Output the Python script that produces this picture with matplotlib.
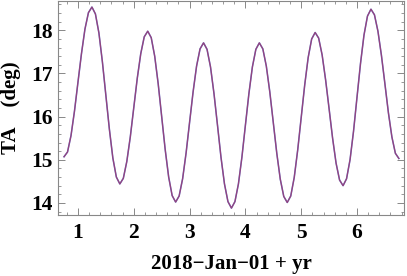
import numpy as np
import matplotlib
matplotlib.use('Agg')
from matplotlib import pyplot as plt
from matplotlib.ticker import MultipleLocator

# time axis, 1/16 yr steps
yr = np.arange(0.75, 6.75 + 1e-9, 0.0625)

# true anomaly (deg)
ta = [15.07, 15.18, 15.56, 16.13, 16.80, 17.46, 18.03, 18.41,
      18.54, 18.38, 17.94, 17.27, 16.49, 15.71, 15.04, 14.60,
      14.44, 14.57, 14.96, 15.53, 16.21, 16.89, 17.46, 17.85,
      17.98, 17.83, 17.40, 16.76, 16.00, 15.24, 14.60, 14.17,
      14.02, 14.16, 14.56, 15.16, 15.87, 16.57, 17.17, 17.57,
      17.71, 17.56, 17.15, 16.53, 15.80, 15.06, 14.44, 14.03,
      13.88, 14.03, 14.44, 15.06, 15.80, 16.53, 17.15, 17.56,
      17.71, 17.57, 17.17, 16.57, 15.86, 15.15, 14.55, 14.15,
      14.01, 14.16, 14.59, 15.23, 15.98, 16.73, 17.37, 17.80,
      17.95, 17.82, 17.43, 16.85, 16.18, 15.50, 14.92, 14.53,
      14.40, 14.56, 15.00, 15.66, 16.45, 17.23, 17.89, 18.33,
      18.49, 18.36, 17.98, 17.42, 16.76, 16.09, 15.53, 15.15,
      15.03]

xticks = [1, 2, 3, 4, 5, 6]
yticks = [14, 15, 16, 17, 18]

plt.rcParams['font.family'] = ['Liberation Serif', 'DejaVu Serif']

fig = plt.figure(figsize=(4.07, 2.76), dpi=100)
ax = fig.add_axes([58 / 407, 61 / 276, 346 / 407, 214 / 276])

ax.plot(yr, ta, color='#4a5fc8', lw=1.1, solid_joinstyle='round')
ax.plot(yr, ta, color='#c8324a', lw=0.9, alpha=0.6, solid_joinstyle='round')

ax.set_xlim(0.642, 6.842)
ax.set_ylim(13.72, 18.68)
ax.set_xticks(xticks)
ax.set_yticks(yticks)
ax.xaxis.set_minor_locator(MultipleLocator(0.2))
ax.yaxis.set_minor_locator(MultipleLocator(0.2))
ax.tick_params(which='both', direction='in', top=True, right=True,
               color='#888888', labelsize=15.5)
ax.tick_params(which='major', length=5, width=0.7)
ax.tick_params(which='minor', length=2.5, width=0.6)
ax.tick_params(axis='x', pad=6)
ax.tick_params(axis='y', pad=4)
for lbl in ax.get_xticklabels() + ax.get_yticklabels():
    lbl.set_fontweight('bold')
for s in ax.spines.values():
    s.set_color('#888888')
    s.set_linewidth(0.8)

ax.set_xlabel('2018\u2212Jan\u221201 + yr', fontsize=15, fontweight='bold',
              labelpad=8)
ax.set_ylabel('TA    (deg)', fontsize=15, fontweight='bold', labelpad=7)

fig.savefig('out.png', dpi=100)
